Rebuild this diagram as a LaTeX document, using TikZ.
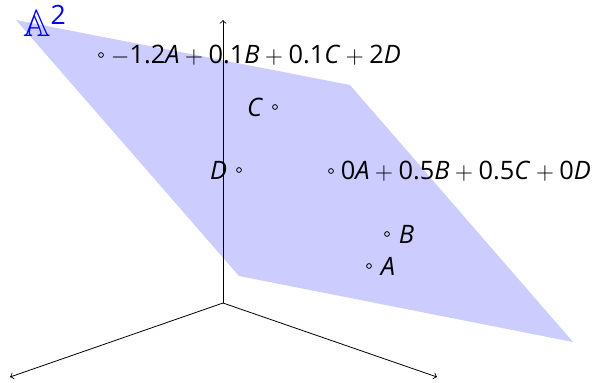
\documentclass[tikz,border=0pt]{standalone}
\usepackage{amsmath}
\usepackage{amssymb}
\usepackage{fontspec}
\setmainfont{Open Sans}
\usetikzlibrary{positioning}
\newcommand{\pls}{${}+{}$}

\begin{document}
\begin{tikzpicture}[x=0.5pt,y=-0.5pt,
  pnt/.style={circle,draw,inner sep=0pt,minimum size=2.4pt},
  plane/.style={fill=blue,fill opacity=0.2},
  every node/.style={font=\fontsize{12.7}{15}\selectfont}]
\useasboundingbox (0,0) rectangle (599,382);
% axes
\coordinate (O) at (223,303);
\coordinate (up) at (223,20);
\coordinate (lf) at (10,377);
\coordinate (rt) at (437,377);
\draw[->] (O) -- (up);
\draw[->] (O) -- (lf);
\draw[->] (O) -- (rt);
% the affine plane
\fill[plane] (16,20) -- (350,85) -- (573,342) -- (239,276) -- cycle;
\node[blue,font=\fontsize{19}{21}\selectfont] (aff) at (45,21) {$\mathbb{A}^{\text{2}}$};
% points
\node[pnt] (P1) at (101,55) {};
\node[right=0pt of P1] (P1lbl) {$-$1.2\textit{A}\pls0.1\textit{B}\pls0.1\textit{C}\pls2\textit{D}};
\node[pnt] (C) at (275,107) {};
\node[left=1pt of C] (Clbl) {\textit{C}};
\node[pnt] (D) at (239,170) {};
\node[left=1pt of D] (Dlbl) {\textit{D}};
\node[pnt] (P2) at (331,171) {};
\node[right=0pt of P2] (P2lbl) {0\textit{A}\pls0.5\textit{B}\pls0.5\textit{C}\pls0\textit{D}};
\node[pnt] (B) at (387,234) {};
\node[right=1pt of B] (Blbl) {\textit{B}};
\node[pnt] (A) at (369,266) {};
\node[right=1pt of A] (Albl) {\textit{A}};
\end{tikzpicture}
\end{document}
